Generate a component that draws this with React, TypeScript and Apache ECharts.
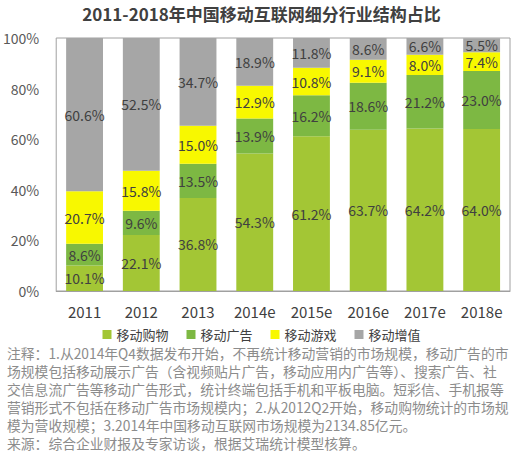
import React, { useEffect, useRef } from 'react';
import * as echarts from 'echarts';

const categories = ['2011', '2012', '2013', '2014e', '2015e', '2016e', '2017e', '2018e'];
const shopping = [10.1, 22.1, 36.8, 54.3, 61.2, 63.7, 64.2, 64.0];
const advertising = [8.6, 9.6, 13.5, 13.9, 16.2, 18.6, 21.2, 23.0];
const games = [20.7, 15.8, 15.0, 12.9, 10.8, 9.1, 8.0, 7.4];
const valueAdded = [60.6, 52.5, 34.7, 18.9, 11.8, 8.6, 6.6, 5.5];
const seriesNames = ['移动购物', '移动广告', '移动游戏', '移动增值'];
const yTicks = [0, 20, 40, 60, 80, 100];

const noteLines = [
  '注释：1.从2014年Q4数据发布开始，不再统计移动营销的市场规模，移动广告的市',
  '场规模包括移动展示广告（含视频贴片广告，移动应用内广告等）、搜索广告、社',
  '交信息流广告等移动广告形式，统计终端包括手机和平板电脑。短彩信、手机报等',
  '营销形式不包括在移动广告市场规模内；2.从2012Q2开始，移动购物统计的市场规',
  '模为营收规模；3.2014年中国移动互联网市场规模为2134.85亿元。',
  '来源：综合企业财报及专家访谈，根据艾瑞统计模型核算。',
];

const FONT = '"Noto Sans CJK SC", "Noto Sans", sans-serif';

const App: React.FC = () => {
  const chartRef = useRef<HTMLDivElement | null>(null);

  useEffect(() => {
    document.body.style.margin = '0';
    if (!chartRef.current) return;
    const chart = echarts.init(chartRef.current, null, { renderer: 'svg' });

    const colors = ['#a3c635', '#7db843', '#f8f800', '#a6a6a6'];
    const data = [shopping, advertising, games, valueAdded];

    chart.setOption({
      animation: false,
      textStyle: { fontFamily: FONT },
      title: {
        text: '2011-2018年中国移动互联网细分行业结构占比',
        left: 'center',
        top: 0,
        textStyle: { fontSize: 17, fontWeight: 'bold', color: '#404040', fontFamily: FONT },
      },
      legend: {
        data: seriesNames,
        top: 328,
        left: 'center',
        padding: 0,
        itemWidth: 9,
        itemHeight: 9,
        itemGap: 18,
        icon: 'rect',
        textStyle: { fontSize: 13, lineHeight: 13, color: '#404040', fontFamily: FONT },
      },
      grid: {
        left: 55,
        right: 13,
        top: 38,
        bottom: 166,
        show: true,
        borderColor: '#a0a0a0',
        borderWidth: 1,
      },
      xAxis: {
        type: 'category',
        data: categories,
        axisLine: { show: true, lineStyle: { color: '#a0a0a0' } },
        axisTick: { show: false },
        axisLabel: { fontSize: 15, color: '#404040', margin: 13, fontFamily: FONT },
      },
      yAxis: {
        type: 'value',
        min: yTicks[0],
        max: yTicks[yTicks.length - 1],
        interval: 20,
        splitLine: { show: false },
        axisLine: { show: false },
        axisTick: { show: false },
        axisLabel: {
          fontSize: 14,
          color: '#595959',
          margin: 17,
          formatter: '{value}%',
          fontFamily: FONT,
        },
      },
      series: seriesNames.map((name, i) => ({
        name,
        type: 'bar',
        stack: 'total',
        barWidth: '65%',
        data: data[i],
        itemStyle: { color: colors[i] },
        label: {
          show: true,
          position: 'inside',
          formatter: (p: any) => p.value.toFixed(1) + '%',
          fontSize: 14,
          lineHeight: 13,
          color: '#404040',
          fontFamily: FONT,
        },
      })),
      graphic: noteLines.map((line, i) => ({
        type: 'text',
        left: 7,
        top: 346 + i * 18,
        style: {
          text: line,
          fontSize: 13.8,
          fill: '#8c8c8c',
          fontFamily: FONT,
        },
      })),
    });

    const resizeHandler = () => chart.resize();
    window.addEventListener('resize', resizeHandler);
    return () => {
      window.removeEventListener('resize', resizeHandler);
      chart.dispose();
    };
  }, []);

  return <div ref={chartRef} style={{ width: 523, height: 457 }} />;
};

export default App;
